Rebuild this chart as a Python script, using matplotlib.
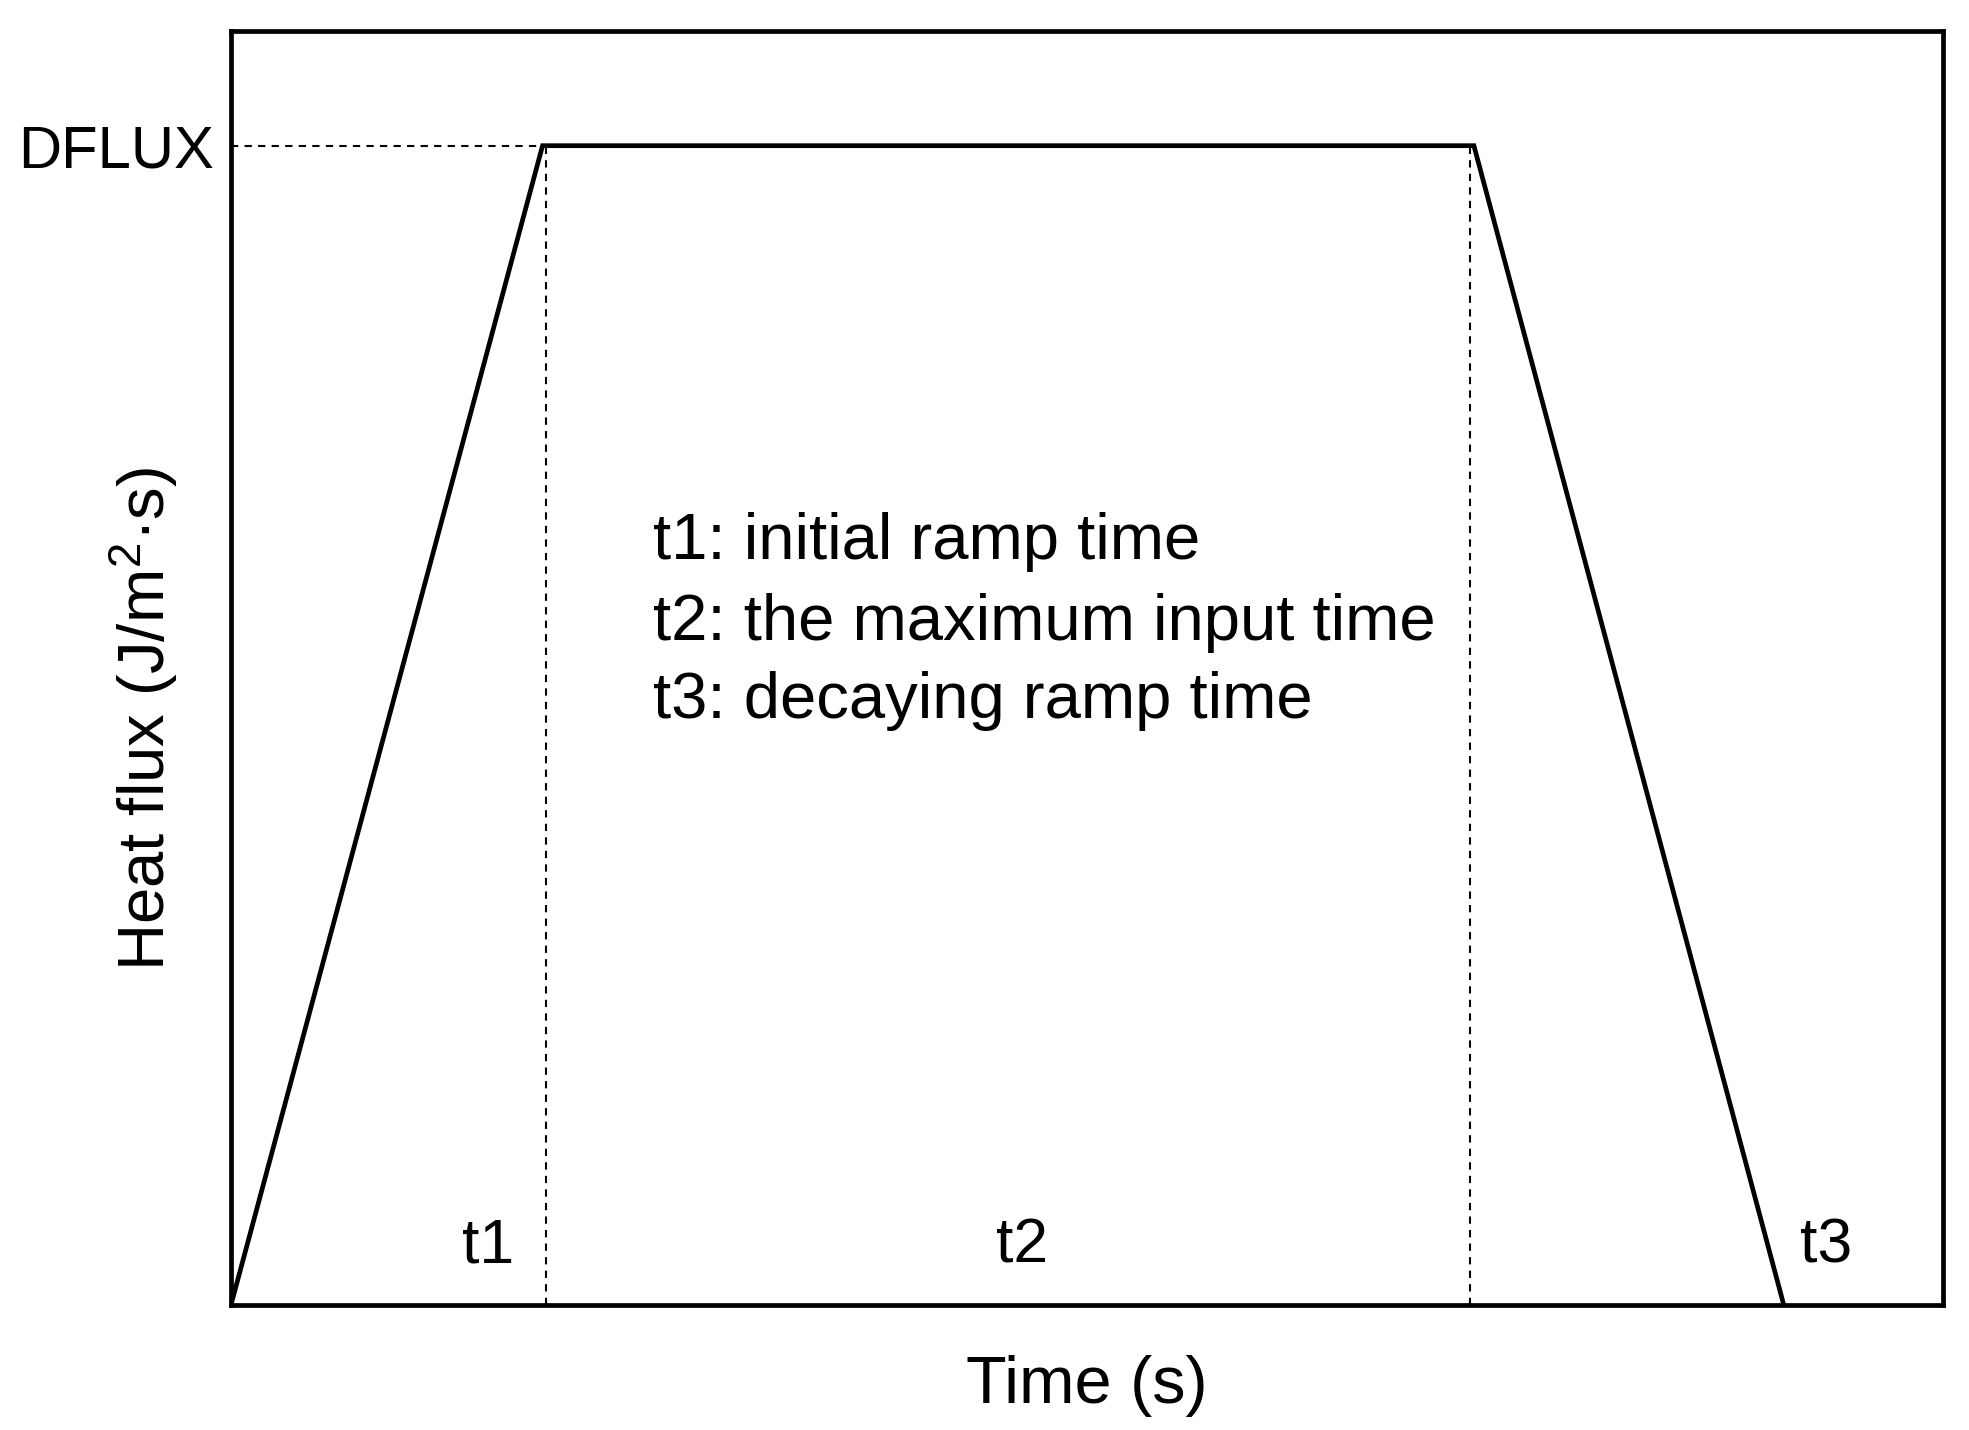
import matplotlib
matplotlib.use("Agg")
import matplotlib.pyplot as plt

plt.rcParams['font.family'] = ['Liberation Sans', 'DejaVu Sans']
plt.rcParams['mathtext.fontset'] = 'custom'
plt.rcParams['mathtext.rm'] = 'Liberation Sans'
plt.rcParams['mathtext.it'] = 'Liberation Sans'

# trapezoidal heat flux input (arbitrary units)
time_pts = [0.0, 1.82, 7.26, 9.07]
flux_pts = [0.0, 0.91, 0.91, 0.0]
dflux = 0.91
guide_x = [1.84, 7.24]

phase_labels = ['t1', 't2', 't3']
phase_x = [1.50, 4.62, 9.32]
phase_y = 0.046

notes = ['t1: initial ramp time',
         't2: the maximum input time',
         't3: decaying ramp time']
notes_x = 2.465
notes_y = [0.599, 0.535, 0.474]

fig = plt.figure(figsize=(19.69, 14.30), dpi=100)
ax = fig.add_axes([0.1173, 0.0874, 0.8695, 0.8909])

dash = (0, (3.5, 3))
ax.plot(time_pts, flux_pts, color='black', lw=3.4, solid_joinstyle='miter')
ax.plot([0, time_pts[1]], [dflux, dflux], color='black', lw=1.5, ls=dash)
for gx in guide_x:
    ax.plot([gx, gx], [0, dflux], color='black', lw=1.5, ls=dash)

for lab, px in zip(phase_labels, phase_x):
    ax.text(px, phase_y, lab, fontsize=45, ha='center', va='center')

for note, ny in zip(notes, notes_y):
    ax.text(notes_x, ny, note, fontsize=47, ha='left', va='center')

ax.set_xlim(0, 10)
ax.set_ylim(0, 1)
ax.set_xticks([])
ax.set_yticks([dflux], ['DFLUX'])
ax.tick_params(axis='y', length=0, pad=12, labelsize=43)
for sp in ax.spines.values():
    sp.set_linewidth(3.4)

ax.set_xlabel('Time (s)', fontsize=48, labelpad=36)
ax.set_ylabel('Heat flux (J/m$^{2}$·s)', fontsize=47)
ax.yaxis.set_label_coords(-0.030, 0.46)

fig.savefig('out.png', dpi=100)
